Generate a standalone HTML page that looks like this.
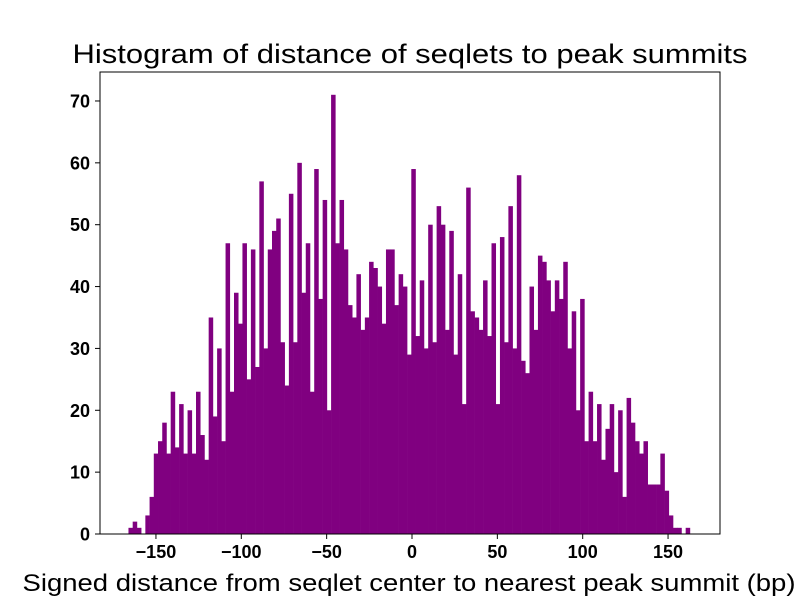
<!DOCTYPE html>
<html><head><meta charset="utf-8"><style>
body{margin:0;background:#fff;}
svg{display:block;font-family:"Liberation Sans",sans-serif;}
</style></head><body>
<svg id="chart" width="800" height="600" viewBox="0 0 800 600" xmlns="http://www.w3.org/2000/svg">
<text x="410" y="63" font-size="27" text-anchor="middle" textLength="675" lengthAdjust="spacingAndGlyphs" fill="#000">Histogram of distance of seqlets to peak summits</text>
<g id="bars"></g>
<rect x="100" y="72" width="620" height="462" fill="none" stroke="#000" stroke-width="1"/>
<g id="xticks"></g>
<g id="yticks"></g>
<text x="409" y="591" font-size="24" text-anchor="middle" textLength="773" lengthAdjust="spacingAndGlyphs" fill="#000">Signed distance from seqlet center to nearest peak summit (bp)</text>
</svg>
<script>
const counts = [1,2,1,0,3,6,13,15,18,13,23,14,21,13,20,13,23,16,12,35,19,30,15,47,23,39,34,47,25,46,27,57,30,46,
49,51,31,24,55,31,60,39,47,23,59,38,54,20,71,47,54,46,37,35,42,33,35,44,43,40,34,46,46,37,42,40,29,
59,32,41,30,50,31,53,50,33,49,29,42,21,56,36,35,33,41,32,47,21,48,31,53,30,58,28,26,40,33,45,44,41,
36,41,38,44,30,36,20,38,15,23,15,21,12,17,21,10,20,6,22,18,15,13,15,8,8,8,13,7,3,1,1,0,1];
const binStart = -166.1;
const binEnd = 162.8;
const xTicks = [-150,-100,-50,0,50,100,150];
const yTicks = [0,10,20,30,40,50,60,70];

const NS="http://www.w3.org/2000/svg";
const xs = v => 412 + v*1.707;
const ys = v => 534 - v*6.186;
const bw = (binEnd-binStart)/counts.length;
const bars = document.getElementById('bars');
counts.forEach((c,i)=>{
  if(c<=0) return;
  const r=document.createElementNS(NS,'rect');
  const x0=xs(binStart+i*bw), x1=xs(binStart+(i+1)*bw);
  r.setAttribute('x',x0);r.setAttribute('width',x1-x0+0.3);
  r.setAttribute('y',ys(c));r.setAttribute('height',ys(0)-ys(c));
  r.setAttribute('fill','#800080');
  
  
  bars.appendChild(r);
});
const xg=document.getElementById('xticks');
xTicks.forEach(t=>{
  const l=document.createElementNS(NS,'line');
  l.setAttribute('x1',xs(t));l.setAttribute('x2',xs(t));l.setAttribute('y1',534);l.setAttribute('y2',539);
  l.setAttribute('stroke','#000');
  
  
  xg.appendChild(l);
  const tx=document.createElementNS(NS,'text');
  tx.setAttribute('x',xs(t));tx.setAttribute('y',558);tx.setAttribute('font-size','18');
  tx.setAttribute('font-weight','bold');tx.setAttribute('text-anchor','middle');
  tx.textContent=t<0?'\u2212'+(-t):String(t);
  
  
  xg.appendChild(tx);
});
const yg=document.getElementById('yticks');
yTicks.forEach(t=>{
  const l=document.createElementNS(NS,'line');
  l.setAttribute('x1',95);l.setAttribute('x2',100);l.setAttribute('y1',ys(t));l.setAttribute('y2',ys(t));
  l.setAttribute('stroke','#000');
  
  
  yg.appendChild(l);
  const tx=document.createElementNS(NS,'text');
  tx.setAttribute('x',90);tx.setAttribute('y',ys(t)+6.5);tx.setAttribute('font-size','18');
  tx.setAttribute('font-weight','bold');tx.setAttribute('text-anchor','end');
  tx.textContent=String(t);
  
  
  yg.appendChild(tx);
});
</script>
</body></html>
